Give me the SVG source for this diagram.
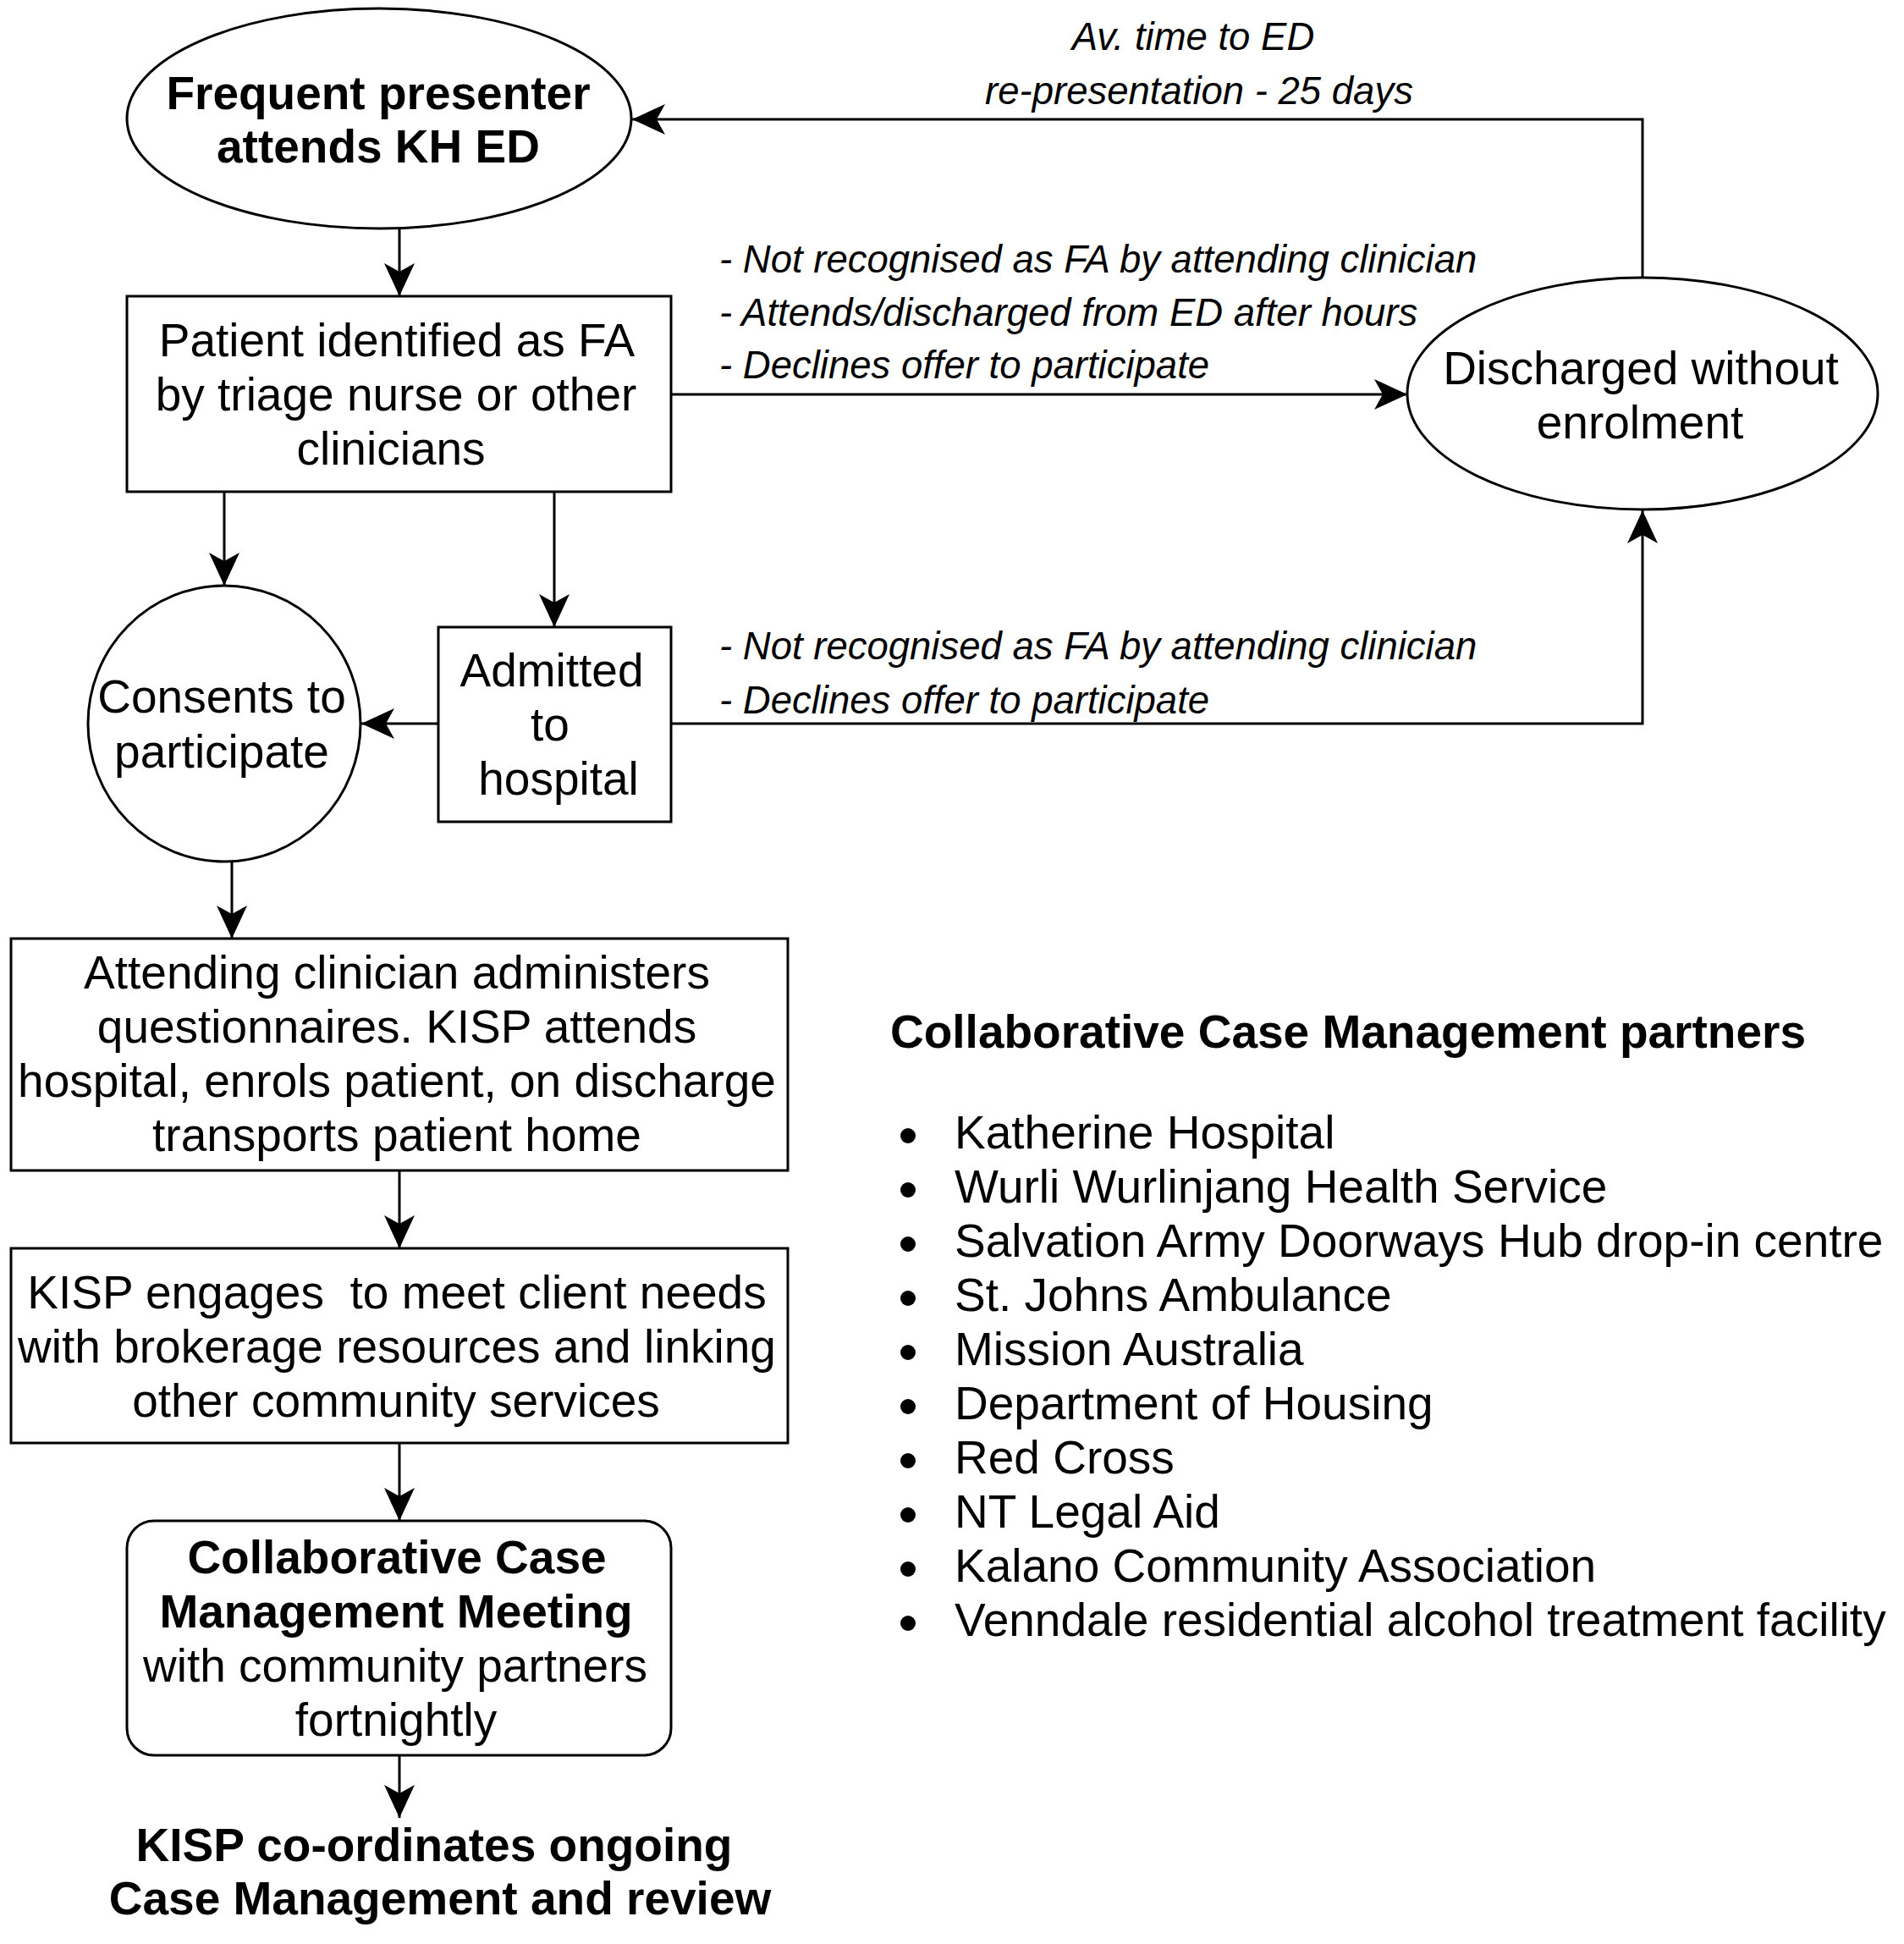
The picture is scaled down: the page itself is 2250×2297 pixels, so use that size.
<svg xmlns="http://www.w3.org/2000/svg" width="2250" height="2297" viewBox="0 0 2250 2297">
<style>
.shape{fill:#fff;stroke:#000;stroke-width:3}
.edge{fill:none;stroke:#000;stroke-width:3}
.t{font-family:"Liberation Sans",Arial,sans-serif;font-size:55px;fill:#000;text-anchor:middle}
.b{font-weight:bold}
.lab{font-family:"Liberation Sans",Arial,sans-serif;font-size:45.5px;font-style:italic;fill:#000}
.li{font-family:"Liberation Sans",Arial,sans-serif;font-size:55px;fill:#000}
</style>
<defs>
<marker id="arr" markerWidth="44" markerHeight="44" viewBox="-42 -22 44 44" refX="0" refY="0" orient="auto" markerUnits="userSpaceOnUse">
<path d="M0,0 L-39,-18 L-29,0 L-39,18 Z" fill="#000"/>
</marker>
</defs>
<rect width="2250" height="2297" fill="#fff"/>
<g id="connectors">
<path class="edge" d="M472,271 L472,350" marker-end="url(#arr)"/>
<path class="edge" d="M793,466 L1663,466" marker-end="url(#arr)"/>
<path class="edge" d="M1941,328 L1941,141 L747,141" marker-end="url(#arr)"/>
<path class="edge" d="M265,581 L265,692" marker-end="url(#arr)"/>
<path class="edge" d="M655,581 L655,741" marker-end="url(#arr)"/>
<path class="edge" d="M518,855 L427,855" marker-end="url(#arr)"/>
<path class="edge" d="M793,855 L1941,855 L1941,603" marker-end="url(#arr)"/>
<path class="edge" d="M274,1018 L274,1109" marker-end="url(#arr)"/>
<path class="edge" d="M472,1383 L472,1475" marker-end="url(#arr)"/>
<path class="edge" d="M472,1705 L472,1797" marker-end="url(#arr)"/>
<path class="edge" d="M472,2074 L472,2148" marker-end="url(#arr)"/>
</g>
<g id="edge-labels">
<text class="lab" text-anchor="middle" x="1410" y="59">Av. time to ED</text>
<text class="lab" text-anchor="middle" x="1417" y="123">re-presentation - 25 days</text>
<text class="lab" x="850" y="322">- Not recognised as FA by attending clinician</text>
<text class="lab" x="850" y="385">- Attends/discharged from ED after hours</text>
<text class="lab" x="850" y="447">- Declines offer to participate</text>
<text class="lab" x="850" y="779">- Not recognised as FA by attending clinician</text>
<text class="lab" x="850" y="843">- Declines offer to participate</text>
</g>
<g id="n-frequent">
<ellipse class="shape" cx="448" cy="140" rx="298" ry="130"/>
<text class="t b" x="447" y="129">Frequent presenter</text>
<text class="t b" x="447" y="192">attends KH ED</text>
</g>
<g id="n-patient">
<rect class="shape" x="150" y="350" width="643" height="231"/>
<text class="t" x="469" y="421">Patient identified as FA</text>
<text class="t" x="468" y="485">by triage nurse or other</text>
<text class="t" x="462" y="549">clinicians</text>
</g>
<g id="n-discharged">
<ellipse class="shape" cx="1941" cy="465" rx="278" ry="137"/>
<text class="t" x="1939" y="454">Discharged without</text>
<text class="t" x="1938" y="518">enrolment</text>
</g>
<g id="n-consents">
<ellipse class="shape" cx="265" cy="855" rx="161" ry="163"/>
<text class="t" x="262" y="842">Consents to</text>
<text class="t" x="262" y="907">participate</text>
</g>
<g id="n-admitted">
<rect class="shape" x="518" y="741" width="275" height="230"/>
<text class="t" x="652" y="811">Admitted</text>
<text class="t" x="650" y="875">to</text>
<text class="t" x="660" y="939">hospital</text>
</g>
<g id="n-attending">
<rect class="shape" x="13" y="1109" width="918" height="274"/>
<text class="t" x="469" y="1168">Attending clinician administers</text>
<text class="t" x="469" y="1232">questionnaires. KISP attends</text>
<text class="t" x="469" y="1296">hospital, enrols patient, on discharge</text>
<text class="t" x="469" y="1360">transports patient home</text>
</g>
<g id="n-kisp">
<rect class="shape" x="13" y="1475" width="918" height="230"/>
<text class="t" x="469" y="1546" style="white-space:pre" xml:space="preserve">KISP engages  to meet client needs</text>
<text class="t" x="469" y="1610">with brokerage resources and linking</text>
<text class="t" x="468" y="1674">other community services</text>
</g>
<g id="n-meeting">
<rect class="shape" x="150" y="1797" width="643" height="277" rx="32" ry="32"/>
<text class="t b" x="469" y="1859">Collaborative Case</text>
<text class="t b" x="468" y="1923">Management Meeting</text>
<text class="t" x="467" y="1987">with community partners</text>
<text class="t" x="468" y="2051">fortnightly</text>
</g>
<g id="n-final">
<text class="t b" x="513" y="2199">KISP co-ordinates ongoing</text>
<text class="t b" x="520" y="2262">Case Management and review</text>
</g>
<g id="partners">
<text class="li b" x="1052" y="1238">Collaborative Case Management partners</text>
<g fill="#000">
<circle cx="1073" cy="1342" r="9"/>
<circle cx="1073" cy="1406" r="9"/>
<circle cx="1073" cy="1470" r="9"/>
<circle cx="1073" cy="1534" r="9"/>
<circle cx="1073" cy="1598" r="9"/>
<circle cx="1073" cy="1662" r="9"/>
<circle cx="1073" cy="1726" r="9"/>
<circle cx="1073" cy="1790" r="9"/>
<circle cx="1073" cy="1854" r="9"/>
<circle cx="1073" cy="1918" r="9"/>
</g>
<text class="li" x="1128" y="1357">Katherine Hospital</text>
<text class="li" x="1128" y="1421">Wurli Wurlinjang Health Service</text>
<text class="li" x="1128" y="1485">Salvation Army Doorways Hub drop-in centre</text>
<text class="li" x="1128" y="1549">St. Johns Ambulance</text>
<text class="li" x="1128" y="1613">Mission Australia</text>
<text class="li" x="1128" y="1677">Department of Housing</text>
<text class="li" x="1128" y="1741">Red Cross</text>
<text class="li" x="1128" y="1805">NT Legal Aid</text>
<text class="li" x="1128" y="1869">Kalano Community Association</text>
<text class="li" x="1128" y="1933">Venndale residential alcohol treatment facility</text>
</g>
</svg>
